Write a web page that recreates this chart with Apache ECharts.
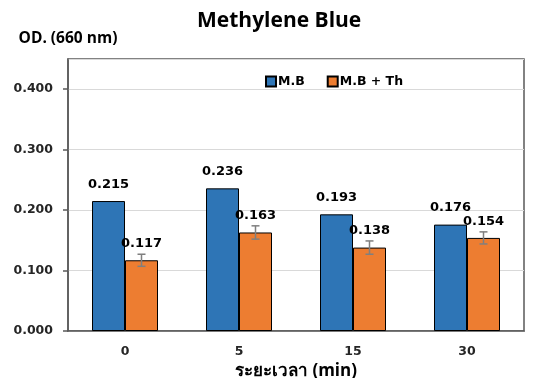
<!DOCTYPE html>
<html>
<head>
<meta charset="utf-8">
<script src="https://cdn.jsdelivr.net/npm/echarts@6/dist/echarts.min.js"></script>
<style>
  html, body { margin: 0; padding: 0; background: #fff; }
  #chart { width: 536px; height: 378px; }
</style>
</head>
<body>
<div id="chart"></div>
<script>
// Absorbance of methylene blue at 660 nm over time, with and without Th
const categories = ['0', '5', '15', '30'];
const mbValues = [0.215, 0.236, 0.193, 0.176];
const mbThValues = [0.117, 0.163, 0.138, 0.154];
const mbThErrors = [0.010, 0.011, 0.011, 0.010];
const yTicks = [0, 0.1, 0.2, 0.3, 0.4];

const BAR_WIDTH = 33;
const numFont = 'DejaVu Sans';
const textFont = '"Open Sans", "Noto Sans", sans-serif';

const chart = echarts.init(document.getElementById('chart'), null, { renderer: 'canvas' });

// error bar rendered on top of the second (right-hand) bar in each group
function renderErrorBar(params, api) {
  const idx = api.value(0);
  const val = api.value(1);
  const err = api.value(2);
  const center = api.coord([idx, val]);
  const x = center[0] + BAR_WIDTH / 2;
  const yHigh = api.coord([idx, val + err])[1];
  const yLow = api.coord([idx, val - err])[1];
  const cap = 4;
  const style = { stroke: '#7f7f7f', lineWidth: 1.5 };
  return {
    type: 'group',
    children: [
      { type: 'line', shape: { x1: x, y1: yHigh, x2: x, y2: yLow }, style },
      { type: 'line', shape: { x1: x - cap, y1: yHigh, x2: x + cap, y2: yHigh }, style },
      { type: 'line', shape: { x1: x - cap, y1: yLow, x2: x + cap, y2: yLow }, style }
    ]
  };
}

chart.setOption({
  animation: false,
  backgroundColor: '#ffffff',
  title: {
    text: 'Methylene Blue',
    left: 192,
    top: 6,
    textStyle: { fontFamily: textFont, fontWeight: 'bold', fontSize: 21, color: '#000' }
  },
  legend: {
    left: 260,
    top: 70,
    itemWidth: 10,
    itemHeight: 10,
    itemGap: 22,
    icon: 'rect',
    textStyle: { fontFamily: numFont, fontWeight: 'bold', fontSize: 12.5, color: '#000', padding: [0, 0, 0, -3] },
    data: ['M.B', 'M.B + Th']
  },
  grid: {
    left: 68, right: 12, top: 59, bottom: 47,
    show: true,
    borderColor: '#595959',
    borderWidth: 1.5,
    containLabel: false,
    outerBoundsMode: 'none'
  },
  xAxis: {
    type: 'category',
    data: categories,
    name: 'ระยะเวลา (min)',
    nameLocation: 'middle',
    nameGap: 30,
    nameTextStyle: { fontFamily: textFont, fontWeight: 'bold', fontSize: 17, color: '#000' },
    axisLine: { lineStyle: { color: '#595959', width: 1.5 } },
    axisTick: { alignWithLabel: true, length: 4, lineStyle: { color: '#595959', width: 1.5 } },
    axisLabel: { margin: 14, fontFamily: numFont, fontWeight: 'bold', fontSize: 12.5, color: '#262626' }
  },
  yAxis: {
    type: 'value',
    min: 0,
    max: 0.45,
    interval: 0.1,
    name: 'OD. (660 nm)',
    nameLocation: 'end',
    nameGap: 12,
    nameTextStyle: { fontFamily: textFont, fontWeight: 'bold', fontSize: 15.5, color: '#000' },
    axisLine: { show: true, lineStyle: { color: '#595959', width: 1.5 } },
    axisTick: { show: true, length: 5, lineStyle: { color: '#595959', width: 1.5 } },
    axisLabel: {
      margin: 15,
      showMaxLabel: false,
      fontFamily: numFont, fontWeight: 'bold', fontSize: 12.5, color: '#262626',
      formatter: v => yTicks.some(t => Math.abs(t - v) < 1e-9) ? v.toFixed(3) : ''
    },
    splitLine: { lineStyle: { color: '#d9d9d9', width: 1 } }
  },
  series: [
    {
      name: 'M.B',
      type: 'bar',
      data: mbValues,
      barWidth: BAR_WIDTH,
      barGap: '0%',
      itemStyle: { color: '#2e75b6', borderColor: '#000', borderWidth: 1 },
      label: {
        show: true, position: 'top', distance: 10,
        fontFamily: numFont, fontWeight: 'bold', fontSize: 13, color: '#000',
        formatter: p => p.value.toFixed(3)
      },
      z: 2
    },
    {
      name: 'M.B + Th',
      type: 'bar',
      data: mbThValues,
      barWidth: BAR_WIDTH,
      barGap: '0%',
      itemStyle: { color: '#ed7d31', borderColor: '#000', borderWidth: 1 },
      label: {
        show: true, position: 'top', distance: 10,
        fontFamily: numFont, fontWeight: 'bold', fontSize: 13, color: '#000',
        formatter: p => p.value.toFixed(3)
      },
      z: 3
    },
    {
      name: 'error',
      type: 'custom',
      renderItem: renderErrorBar,
      data: mbThValues.map((v, i) => [i, v, mbThErrors[i]]),
      encode: { x: 0, y: 1 },
      z: 4,
      silent: true
    }
  ]
});
</script>
</body>
</html>
